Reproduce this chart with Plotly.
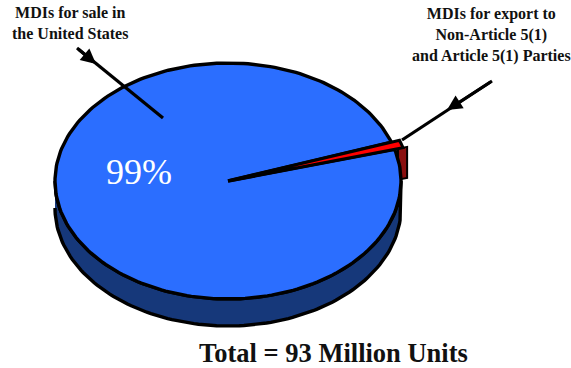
import numpy as np
import plotly.graph_objects as go

categories = ["MDIs for sale in the United States", "MDIs for export to Non-Article 5(1) and Article 5(1) Parties"]
shares = [99, 1]
colors_top = ["#2b6eff", "#ff0000"]
colors_side = ["#16387a", "#8a0f0f"]

# pie geometry
cx, cy, rx, ry, depth = 228, 181, 173, 118, 27
start_deg = 15.6     # lower edge of the small slice, counter-clockwise on screen
export_sweep = shares[1] / sum(shares) * 360
export_rad = 1.05

def pt(deg, r=1.0):
    a = np.radians(deg)
    return cx + rx * r * np.cos(a), cy - ry * r * np.sin(a)

fig = go.Figure()

# side of the big slice (front half)
t = np.linspace(180, 360, 120)
x1, y1 = pt(t)
fig.add_trace(go.Scatter(
    x=np.r_[x1, x1[::-1]], y=np.r_[y1, (y1 + depth)[::-1]], mode="lines", fill="toself",
    fillcolor=colors_side[0], line=dict(color="black", width=3.4), hoverinfo="skip", showlegend=False))

# side of the small slice
xa, ya = pt(start_deg, 1.02)
xb, yb = pt(start_deg, 1.075)
fig.add_trace(go.Scatter(
    x=[xa, xb, xb, xa, xa], y=[ya, yb, yb + depth + 4, ya + depth + 4, ya], mode="lines", fill="toself",
    fillcolor=colors_side[1], line=dict(color="black", width=2), hoverinfo="skip", showlegend=False))

# top of the big slice
t = np.linspace(start_deg + export_sweep, start_deg + 360, 240)
x3, y3 = pt(t)
fig.add_trace(go.Scatter(
    x=np.r_[cx, x3, cx], y=np.r_[cy, y3, cy], mode="lines", fill="toself",
    fillcolor=colors_top[0], line=dict(color="black", width=3.4), name=categories[0],
    hoverinfo="name", showlegend=False))

# top of the small slice
t = np.linspace(start_deg, start_deg + export_sweep, 6)
x4, y4 = pt(t, export_rad)
fig.add_trace(go.Scatter(
    x=np.r_[cx, x4, cx], y=np.r_[cy, y4, cy], mode="lines", fill="toself",
    fillcolor=colors_top[1], line=dict(color="black", width=3), name=categories[1],
    hoverinfo="name", showlegend=False))

serif = "Liberation Serif"
def label(x, y, text, size, color="#111111", bold=True):
    fig.add_annotation(x=x, y=y, text=f"<b>{text}</b>" if bold else text, showarrow=False,
                       xanchor="center", yanchor="middle", align="center", borderpad=0,
                       font=dict(family=serif, size=size, color=color))

label(70, 23, "MDIs for sale in<br>the United States", 16)
label(491, 35, "MDIs for export to<br>Non-Article 5(1)<br>and Article 5(1) Parties", 16)
label(139, 172, f"{shares[0]}%", 36, "white", bold=False)
label(333, 353, "Total = 93 Million Units", 26.5, "#111111")

# leader lines
fig.add_shape(type="line", x0=77, y0=48, x1=163, y1=118, line=dict(color="black", width=3.2))
fig.add_shape(type="line", x0=492, y0=81, x1=402, y1=140, line=dict(color="black", width=3.2))
for (x0, y0, xe, ye) in [(77, 48, 96, 64), (492, 81, 447, 110)]:
    fig.add_annotation(x=xe, y=ye, ax=x0, ay=y0, axref="x", ayref="y", xref="x", yref="y", text="",
                       showarrow=True, arrowhead=2, arrowsize=1, arrowwidth=3, arrowcolor="black")

fig.update_xaxes(range=[0, 571], visible=False, fixedrange=True)
fig.update_yaxes(range=[368, 0], visible=False, fixedrange=True)
fig.update_layout(width=571, height=368, margin=dict(l=0, r=0, t=0, b=0),
                  paper_bgcolor="white", plot_bgcolor="white", showlegend=False)
fig.write_html("out.html", config=dict(displayModeBar=False),
               post_script="document.body.style.margin='0';document.documentElement.style.overflow='hidden';")
